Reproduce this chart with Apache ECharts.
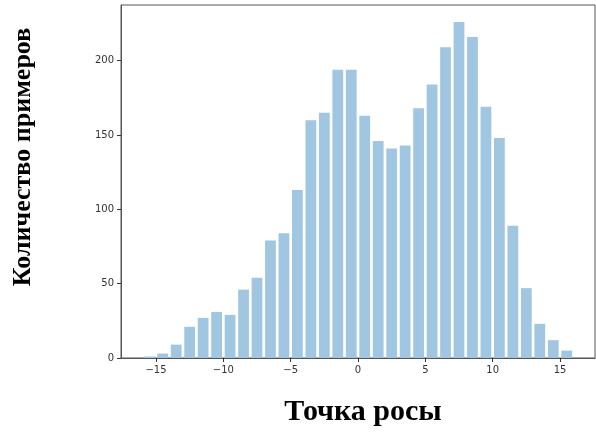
<!DOCTYPE html>
<html>
<head>
<meta charset="utf-8">
<script src="https://cdn.jsdelivr.net/npm/echarts@6/dist/echarts.min.js"></script>
<style>
html,body{margin:0;padding:0;background:#fff;}
#chart{width:596px;height:433px;}
</style>
</head>
<body>
<div id="chart"></div>
<script>
// Bin centers (bin width 1, edges -16..16)
const binCenters = [-15.5,-14.5,-13.5,-12.5,-11.5,-10.5,-9.5,-8.5,-7.5,-6.5,-5.5,-4.5,-3.5,-2.5,-1.5,-0.5,0.5,1.5,2.5,3.5,4.5,5.5,6.5,7.5,8.5,9.5,10.5,11.5,12.5,13.5,14.5,15.5];
const counts = [1,3,9,21,27,31,29,46,54,79,84,113,160,165,194,194,163,146,141,143,168,184,209,226,216,169,148,89,47,23,12,5];
const xTicks = [-15,-10,-5,0,5,10,15];
const yTicks = [0,50,100,150,200];
const xLabel = 'Точка росы';
const yLabel = 'Количество примеров';

const chart = echarts.init(document.getElementById('chart'));
const data = binCenters.map((c,i)=>[c,counts[i]]);
const tickFont = {fontFamily:'DejaVu Sans', fontSize:10, color:'#333'};
chart.setOption({
  animation:false,
  grid:{left:121,top:5,right:1,bottom:75,show:true,borderColor:'#555',borderWidth:1},
  xAxis:{type:'value',min:-17.6,max:17.6,
    splitLine:{show:false},
    axisLine:{show:true,onZero:false,lineStyle:{color:'#555'}},
    axisTick:{show:true,length:4,customValues:xTicks,lineStyle:{color:'#333'}},
    axisLabel:Object.assign({customValues:xTicks,margin:7,formatter:v=>String(v).replace('-','\u2212')},tickFont)},
  yAxis:{type:'value',min:0,max:237.5,
    splitLine:{show:false},
    axisLine:{show:true,onZero:false,lineStyle:{color:'#555'}},
    axisTick:{show:true,length:4,customValues:yTicks,lineStyle:{color:'#333'}},
    axisLabel:Object.assign({customValues:yTicks,margin:7},tickFont)},
  series:[{type:'custom',data:data,
    renderItem:function(params,api){
      const x=api.value(0), y=api.value(1);
      const p0=api.coord([x-0.4,y]);
      const p1=api.coord([x+0.4,0]);
      return {type:'rect',shape:{x:p0[0],y:p0[1],width:p1[0]-p0[0],height:p1[1]-p0[1]},
        style:{fill:'#a0c6e2'}};
    }}],
  graphic:[
    {type:'text',x:363,y:412,style:{text:xLabel,font:'bold 30px "Liberation Serif"',fill:'#000',textAlign:'center',textVerticalAlign:'middle'}},
    {type:'text',rotation:Math.PI/2,x:23,y:157,style:{text:yLabel,font:'bold 26px "Liberation Serif"',fill:'#000',textAlign:'center',textVerticalAlign:'middle'}}
  ]
});
</script>
</body>
</html>
